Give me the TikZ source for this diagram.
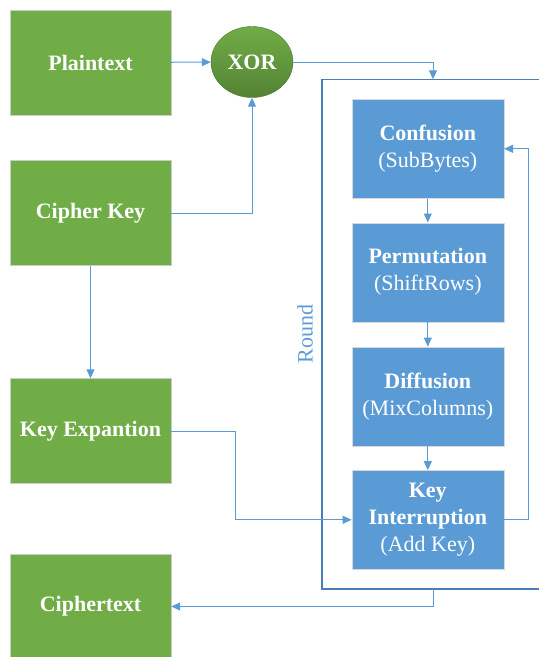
\documentclass[tikz,border=0pt]{standalone}
\usepackage{fontspec}
\setmainfont{Liberation Serif}
\usepackage{xcolor}
\usetikzlibrary{arrows.meta, shapes.geometric, calc, positioning}

\definecolor{boxgreen}{HTML}{70AD47}
\definecolor{darkgreen}{HTML}{548235}
\definecolor{boxblue}{HTML}{5B9BD5}
\definecolor{linkblue}{HTML}{5B9BD5}
\definecolor{frameblue}{HTML}{4A7EBB}
\newcommand{\bigfont}{\fontsize{22}{27}\selectfont}

\begin{document}
\begin{tikzpicture}[x=1pt, y=-1pt, font=\bigfont,
    greenbox/.style={rectangle, fill=boxgreen, draw=black!20, text=white, font=\bigfont\bfseries, align=center, minimum width=161pt, minimum height=105pt, inner sep=0pt},
    bluebox/.style={rectangle, fill=boxblue, draw=black!15, text=white, font=\bigfont\bfseries, align=center, minimum width=152pt, minimum height=99pt, inner sep=0pt},
    link/.style={draw=linkblue, line width=1pt, -{Triangle[length=9pt, width=8pt]}}]
                        \useasboundingbox (0, 0) rectangle (539, 657);
                        % left column
                        \node[greenbox] (plain) at (90.5, 62.5) {Plaintext};
                        \node[greenbox] (key) at (90.5, 213) {Cipher Key};
                        \node[greenbox] (expand) at (90.5, 431) {Key Expantion};
                        \node[greenbox] (cipher) at (90.5, 606.5) {Ciphertext};
                        \node[ellipse, top color=boxgreen, bottom color=darkgreen, draw=darkgreen!90!black, text=white, font=\bigfont\bfseries, minimum width=82pt, minimum height=71pt, inner sep=0pt] (xor) at (252, 62) {XOR};
                        % round frame
                        \draw[frameblue, line width=1.2pt] (560, 79.3) -- (322, 79.3) -- (322, 589) -- (560, 589);
                        \node[rotate=90, text=linkblue] (roundlabel) at (305, 334) {Round};
                        \coordinate (roundin) at (433, 79.3);
                        \coordinate (roundout) at (433, 589);
                        % round steps
                        \node[bluebox] (confusion) at (427.8, 148.8) {Confusion\\\textmd{(SubBytes)}};
                        \node[bluebox] (permutation) at (427.8, 272.2) {Permutation\\\textmd{(ShiftRows)}};
                        \node[bluebox] (diffusion) at (427.8, 396.3) {Diffusion\\\textmd{(MixColumns)}};
                        \node[bluebox] (interrupt) at (427.8, 519.8) {Key\\Interruption\\\textmd{(Add Key)}};
                        \draw[link] (plain) -- (xor);
                        \draw[link] (key.east) -| (xor.south);
                        \draw[link] (key) -- (expand);
                        \draw[link] (xor.east) -| (roundin);
                        \draw[link] (confusion) -- (permutation);
                        \draw[link] (permutation) -- (diffusion);
                        \draw[link] (diffusion) -- (interrupt);
                        \draw[link] (expand.east) -- ++(64.5, 0) |- (interrupt.west);
                        \draw[link] (interrupt.east) -- ++(24, 0) |- (confusion.east);
                        \draw[link] (roundout) |- (cipher.east);
                    \end{tikzpicture}
\end{document}
